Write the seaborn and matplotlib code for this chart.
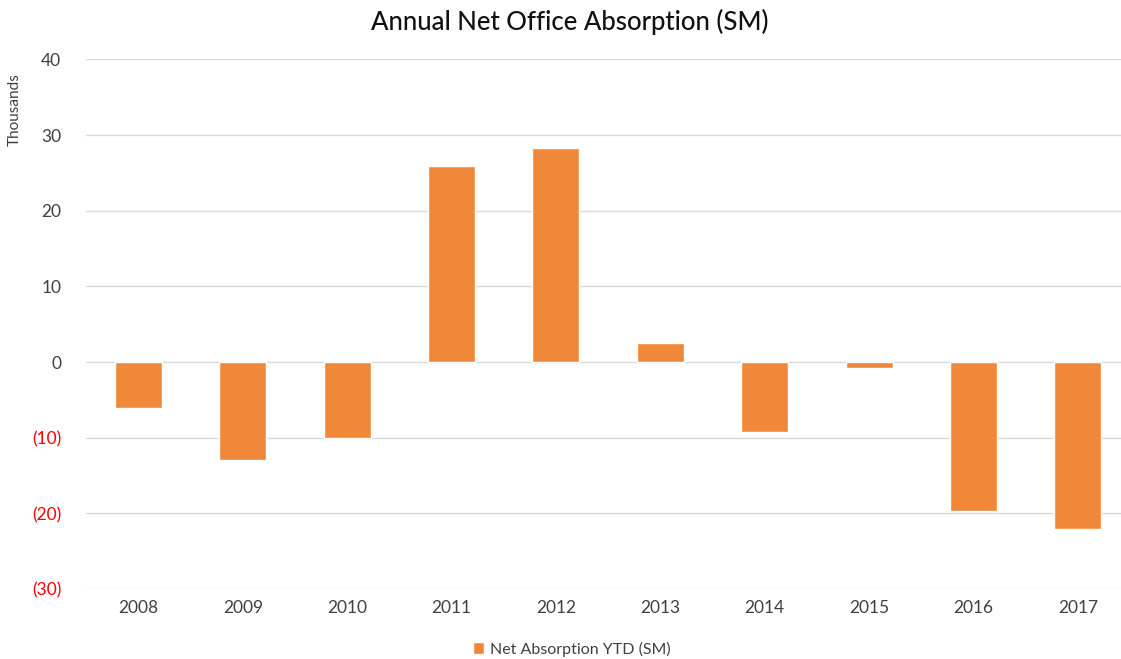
import numpy as np
import pandas as pd
import matplotlib
matplotlib.use('Agg')
import matplotlib.pyplot as plt
import seaborn as sns

# chart data
years = ['2008', '2009', '2010', '2011', '2012', '2013', '2014', '2015', '2016', '2017']
net_absorption = [-6.1, -12.9, -10.0, 25.9, 28.3, 2.5, -9.2, -0.8, -19.7, -22.1]
y_ticks = [-30, -20, -10, 0, 10, 20, 30, 40]

df = pd.DataFrame({'Year': years, 'Value': net_absorption})

sns.set_style('white')
plt.rcParams['font.family'] = ['Lato', 'DejaVu Sans']

fig = plt.figure(figsize=(11.21, 6.59), dpi=100)
ax = fig.add_axes([0.077, 0.106, 0.931, 0.804])

sns.barplot(data=df, x='Year', y='Value', color='#F0883A', width=0.45,
            saturation=1, label='Net Absorption YTD (SM)', ax=ax, zorder=3)

ax.set_ylim(-30, 40)
ax.set_yticks(y_ticks)
ax.set_yticklabels(['(%d)' % -t if t < 0 else '%d' % t for t in y_ticks], fontsize=12.5)
for lbl, t in zip(ax.get_yticklabels(), y_ticks):
    lbl.set_color('#FF0000' if t < 0 else '#404040')
ax.tick_params(axis='x', labelsize=12.5, colors='#404040', length=0, pad=8)
ax.tick_params(axis='y', length=0, pad=18)
ax.yaxis.grid(True, color='#D9D9D9', linewidth=1, zorder=0)
ax.xaxis.grid(False)
ax.set_xlabel('')
ax.set_ylabel('Thousands', fontsize=11, color='#404040')
ax.yaxis.set_label_coords(-0.062, 0.905)
sns.despine(ax=ax, left=True, bottom=True)

fig.text(570 / 1121, 1 - 22 / 659, 'Annual Net Office Absorption (SM)', fontsize=18.5,
         color='#111111', ha='center', va='center', fontweight='medium')

# move the legend below the plot, centred under the title
handles, labels = ax.get_legend_handles_labels()
if ax.get_legend() is not None:
    ax.get_legend().remove()
fig.legend(handles, labels, loc='center', bbox_to_anchor=(572 / 1121, 1 - 649 / 659),
           frameon=False, fontsize=11.5, handlelength=0.7, handleheight=0.7,
           handletextpad=0.4, labelcolor='#404040')

fig.savefig('out.png', dpi=100)
